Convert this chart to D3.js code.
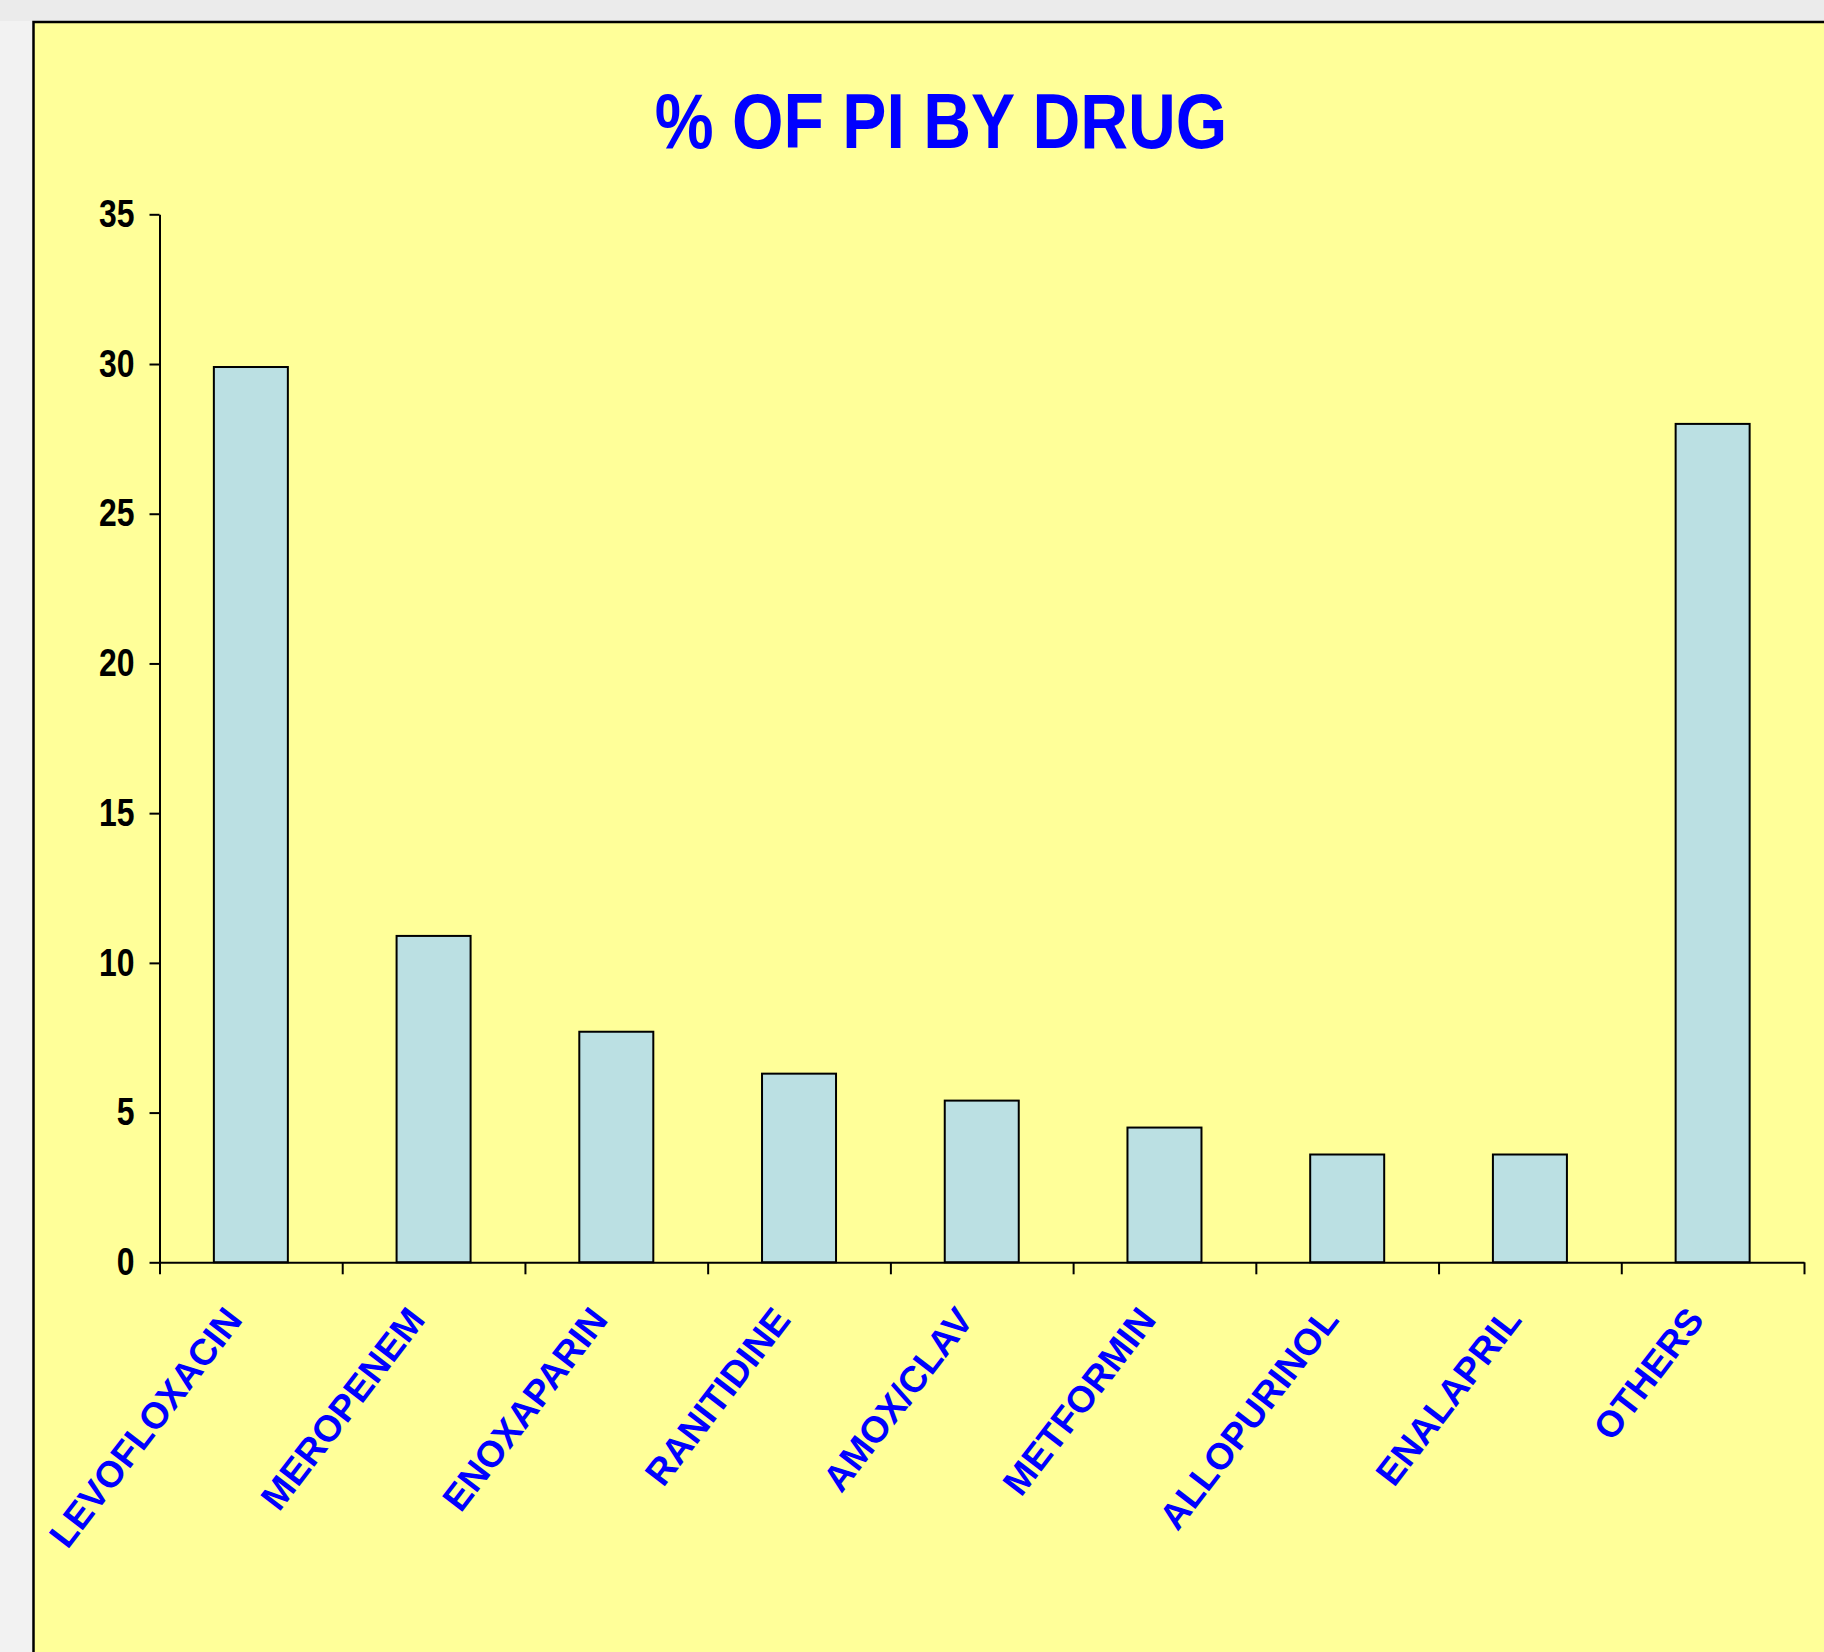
<!DOCTYPE html>
<html>
<head>
<meta charset="utf-8">
<script src="https://cdn.jsdelivr.net/npm/d3@7"></script>
<style>
  body { margin: 0; background: #f2f2f2; }
  text { font-family: "Liberation Sans", Arial, sans-serif; font-weight: bold; }
</style>
</head>
<body>
<svg id="chart"></svg>
<script>
// data
const drugs = ['LEVOFLOXACIN', 'MEROPENEM', 'ENOXAPARIN', 'RANITIDINE', 'AMOX/CLAV',
               'METFORMIN', 'ALLOPURINOL', 'ENALAPRIL', 'OTHERS'];
const pct = [29.9, 10.9, 7.7, 6.3, 5.4, 4.5, 3.6, 3.6, 28.0];
const yTicks = [0, 5, 10, 15, 20, 25, 30, 35];
const title = '% OF PI BY DRUG';

const width = 1824, height = 1652;
const plot = {left: 159.5, right: 1804, top: 214.3, bottom: 1262.3};

const svg = d3.select('#chart')
    .attr('width', width)
    .attr('height', height);

// page strip and yellow panel
svg.append('rect')
    .attr('x', 0).attr('y', 0)
    .attr('width', width).attr('height', 21)
    .attr('fill', '#ebebeb');
svg.append('rect')
    .attr('x', 33.5).attr('y', 22)
    .attr('width', 2000).attr('height', 2000)
    .attr('fill', '#ffff99')
    .attr('stroke', '#000')
    .attr('stroke-width', 2.5);

const data = drugs.map((d, i) => ({drug: d, value: pct[i]}));

const yScale = d3.scaleLinear()
    .domain([0, 35])
    .range([plot.bottom, plot.top]);

// bars sit in the middle of each category slot
const xBand = d3.scaleBand()
    .domain(drugs)
    .range([plot.left, plot.right])
    .paddingInner(0.595)
    .paddingOuter(0.2975);

// category edges for the tick marks
const xEdge = d3.scaleLinear()
    .domain([0, drugs.length])
    .range([plot.left, plot.right]);

//bars
svg.append('g')
    .selectAll('rect')
    .data(data)
    .enter()
    .append('rect')
    .attr('x', d => xBand(d.drug))
    .attr('y', d => yScale(d.value))
    .attr('width', xBand.bandwidth())
    .attr('height', d => yScale(0) - yScale(d.value))
    .attr('fill', '#bbe0e3')
    .attr('stroke', '#000')
    .attr('stroke-width', 2);

//y axis
const yAxis = d3.axisLeft(yScale)
    .tickValues(yTicks)
    .tickSize(10)
    .tickSizeOuter(0);
const gy = svg.append('g')
    .attr('transform', `translate(${plot.left}, 0)`)
    .call(yAxis);
gy.select('.domain').attr('stroke', '#000').attr('stroke-width', 2);
gy.selectAll('.tick line').attr('stroke', '#000').attr('stroke-width', 2);
gy.selectAll('.tick text')
    .attr('x', -25 / 0.84)
    .attr('transform', 'scale(0.84,1)')
    .attr('fill', '#000')
    .style('font-size', '38px')
    .style('font-weight', 'bold');

//x axis
const xAxis = d3.axisBottom(xEdge)
    .tickValues(d3.range(drugs.length + 1))
    .tickSize(12)
    .tickSizeOuter(0)
    .tickFormat('');
const gx = svg.append('g')
    .attr('transform', `translate(0, ${plot.bottom})`)
    .call(xAxis);
gx.select('.domain').attr('stroke', '#000').attr('stroke-width', 2);
gx.selectAll('.tick line').attr('stroke', '#000').attr('stroke-width', 2);

// category labels, slanted
svg.append('g')
    .selectAll('text')
    .data(drugs)
    .enter()
    .append('text')
    .attr('transform', d => `translate(${xBand(d) + xBand.bandwidth() / 2 - 7}, ${plot.bottom + 58}) rotate(-52.5)`)
    .attr('text-anchor', 'end')
    .attr('fill', '#0000ff')
    .style('font-size', '37px')
    .text(d => d);

//title
svg.append('text')
    .attr('transform', 'translate(941, 148) scale(0.86,1)')
    .attr('text-anchor', 'middle')
    .attr('fill', '#0000ff')
    .style('font-size', '77px')
    .text(title);
</script>
</body>
</html>
